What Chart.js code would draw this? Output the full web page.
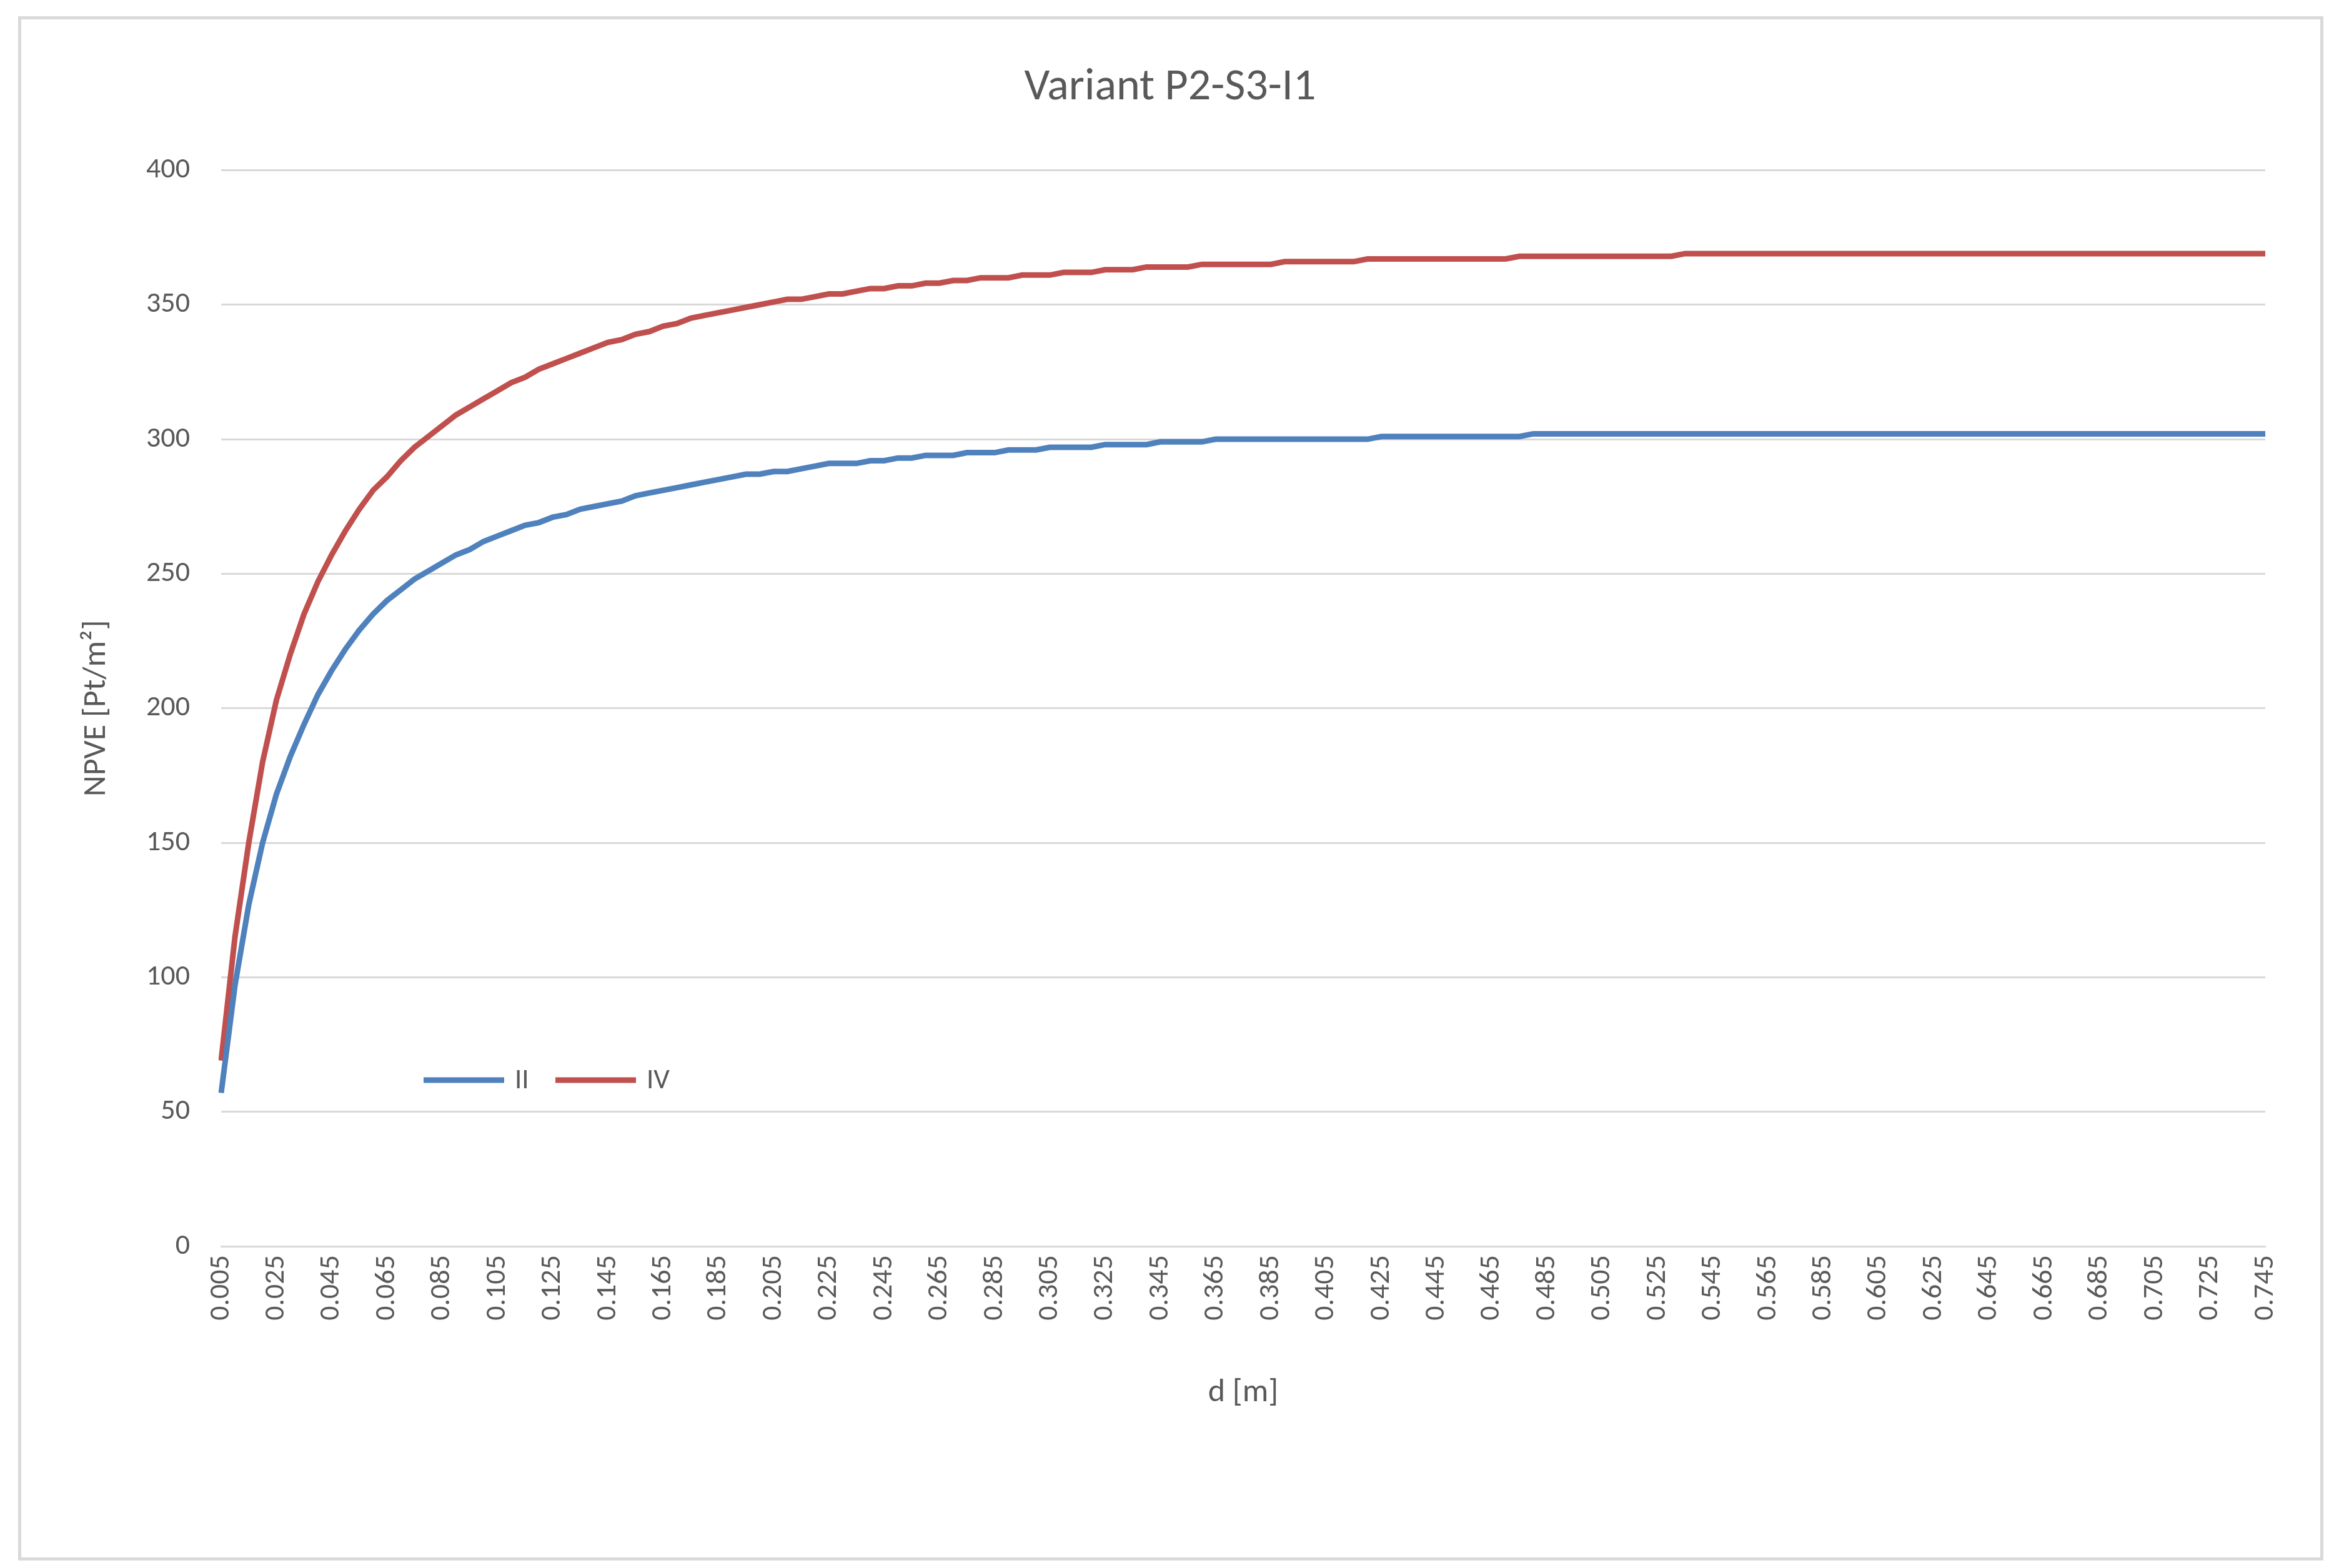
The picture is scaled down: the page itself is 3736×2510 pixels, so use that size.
<!DOCTYPE html>
<html>
<head>
<meta charset="utf-8">
<script src="https://cdn.jsdelivr.net/npm/chart.js@4"></script>
<style>
  html, body { margin: 0; padding: 0; background: #fff; }
  #wrap { position: relative; width: 3736px; height: 2510px; }
  #frame { position: absolute; left: 29px; top: 26px; width: 3680px; height: 2462px; border: 5px solid #d9d9d9; }
  canvas { position: absolute; left: 0; top: 0; }
</style>
</head>
<body>
<div id="wrap">
  <div id="frame"></div>
  <canvas id="c" width="3736" height="2510"></canvas>
</div>
<script>
// d [m]: 0.005 ... 0.745
const depths = [];
for (let i = 1; i <= 149; i++) depths.push((i * 0.005).toFixed(3));

const seriesII = [
  57, 97, 127, 150, 168, 182, 194, 205, 214, 222,
  229, 235, 240, 244, 248, 251, 254, 257, 259, 262,
  264, 266, 268, 269, 271, 272, 274, 275, 276, 277,
  279, 280, 281, 282, 283, 284, 285, 286, 287, 287,
  288, 288, 289, 290, 291, 291, 291, 292, 292, 293,
  293, 294, 294, 294, 295, 295, 295, 296, 296, 296,
  297, 297, 297, 297, 298, 298, 298, 298, 299, 299,
  299, 299, 300, 300, 300, 300, 300, 300, 300, 300,
  300, 300, 300, 300, 301, 301, 301, 301, 301, 301,
  301, 301, 301, 301, 301, 302, 302, 302, 302, 302,
  302, 302, 302, 302, 302, 302, 302, 302, 302, 302,
  302, 302, 302, 302, 302, 302, 302, 302, 302, 302,
  302, 302, 302, 302, 302, 302, 302, 302, 302, 302,
  302, 302, 302, 302, 302, 302, 302, 302, 302, 302,
  302, 302, 302, 302, 302, 302, 302, 302, 302
];

const seriesIV = [
  69, 115, 150, 180, 203, 220, 235, 247, 257, 266,
  274, 281, 286, 292, 297, 301, 305, 309, 312, 315,
  318, 321, 323, 326, 328, 330, 332, 334, 336, 337,
  339, 340, 342, 343, 345, 346, 347, 348, 349, 350,
  351, 352, 352, 353, 354, 354, 355, 356, 356, 357,
  357, 358, 358, 359, 359, 360, 360, 360, 361, 361,
  361, 362, 362, 362, 363, 363, 363, 364, 364, 364,
  364, 365, 365, 365, 365, 365, 365, 366, 366, 366,
  366, 366, 366, 367, 367, 367, 367, 367, 367, 367,
  367, 367, 367, 367, 368, 368, 368, 368, 368, 368,
  368, 368, 368, 368, 368, 368, 369, 369, 369, 369,
  369, 369, 369, 369, 369, 369, 369, 369, 369, 369,
  369, 369, 369, 369, 369, 369, 369, 369, 369, 369,
  369, 369, 369, 369, 369, 369, 369, 369, 369, 369,
  369, 369, 369, 369, 369, 369, 369, 369, 369
];

const seriesNames = ['II', 'IV'];
const seriesColors = ['#4f81bd', '#c0504d'];

const txt = '#595959';
const font = 'Calibri, Carlito, "Open Sans", "Liberation Sans", sans-serif';

// legend drawn inside the plot, like the original
const innerLegend = {
  id: 'innerLegend',
  afterDraw(chart) {
    const ctx = chart.ctx;
    const y = 1729;
    let x = 678;
    ctx.save();
    ctx.font = '45px ' + font;
    ctx.textBaseline = 'middle';
    chart.data.datasets.forEach(ds => {
      ctx.strokeStyle = ds.borderColor;
      ctx.lineWidth = 9;
      ctx.beginPath();
      ctx.moveTo(x, y);
      ctx.lineTo(x + 129, y);
      ctx.stroke();
      ctx.fillStyle = txt;
      ctx.fillText(ds.label, x + 146, y + 2);
      x += 211;
    });
    ctx.restore();
  }
};

new Chart(document.getElementById('c'), {
  type: 'line',
  data: {
    labels: depths,
    datasets: seriesNames.map((n, k) => ({
      label: n,
      data: k === 0 ? seriesII : seriesIV,
      borderColor: seriesColors[k],
      backgroundColor: seriesColors[k],
      borderWidth: 9,
      pointRadius: 0,
      tension: 0,
      fill: false
    }))
  },
  options: {
    responsive: false,
    animation: false,
    layout: { padding: { left: 120, right: 110, top: 0, bottom: 245 } },
    plugins: {
      legend: { display: false },
      tooltip: { enabled: false },
      title: {
        display: true,
        text: 'Variant P2-S3-I1',
        color: txt,
        font: { size: 72, family: font, weight: 'normal' },
        padding: { top: 98, bottom: 88 }
      }
    },
    scales: {
      x: {
        afterFit: s => { s.height = 270; },
        grid: { display: false, drawTicks: false },
        border: { color: '#d9d9d9', width: 3 },
        ticks: {
          autoSkip: false,
          minRotation: 90, maxRotation: 90,
          color: txt,
          padding: 14,
          font: { size: 46, family: font },
          callback: function (v, i) { return i % 4 === 0 ? this.getLabelForValue(v) : ''; }
        },
        title: {
          display: true, text: 'd [m]', color: txt,
          font: { size: 52, family: font }, padding: { top: 10 }
        }
      },
      y: {
        min: 0, max: 400,
        afterFit: s => { s.width = 234; },
        grid: { color: '#d9d9d9', lineWidth: 3, drawTicks: false },
        border: { display: false },
        ticks: {
          stepSize: 50, color: txt, padding: 50,
          font: { size: 46, family: font }
        },
        title: {
          display: true, text: 'NPVE [Pt/m²]', color: txt,
          font: { size: 52, family: font }, padding: { bottom: 20 }
        }
      }
    }
  },
  plugins: [innerLegend]
});
</script>
</body>
</html>
